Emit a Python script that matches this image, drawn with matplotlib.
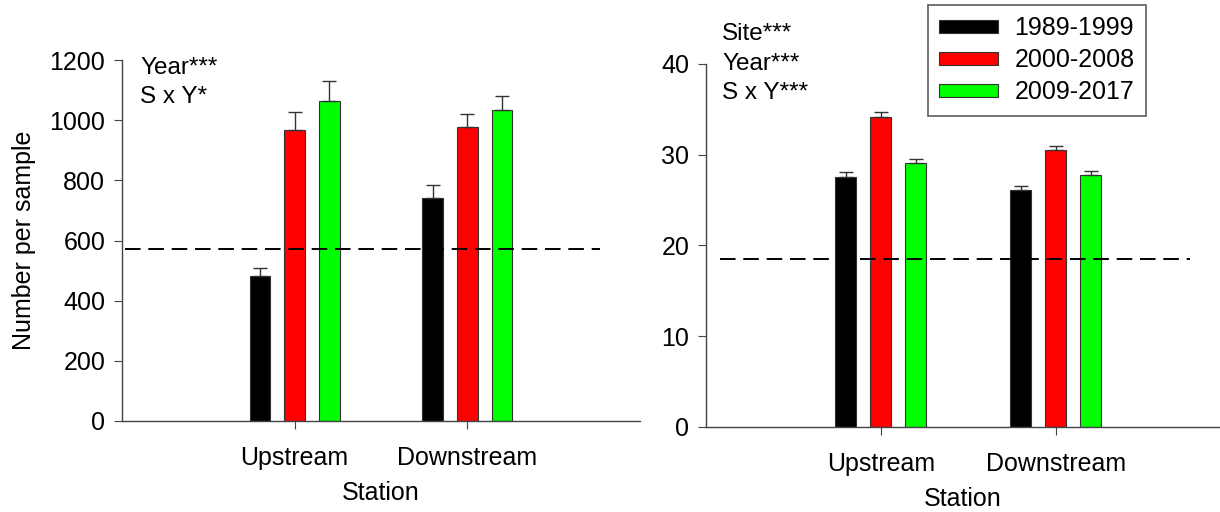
import matplotlib
matplotlib.use("Agg")
import matplotlib.pyplot as plt
import numpy as np

plt.rcParams['font.family'] = ['Liberation Sans', 'DejaVu Sans']

stations = ["Upstream", "Downstream"]
periods = ["1989-1999", "2000-2008", "2009-2017"]
colors = ["#000000", "#ff0000", "#00ff00"]

# Left panel: Number per sample
left_means = {"1989-1999": [482, 740], "2000-2008": [968, 977], "2009-2017": [1064, 1035]}
left_err = {"1989-1999": [28, 43], "2000-2008": [60, 44], "2009-2017": [66, 45]}
left_ref = 572
left_notes = ["Year***", "S x Y*"]

# Right panel
right_means = {"1989-1999": [27.6, 26.1], "2000-2008": [34.2, 30.5], "2009-2017": [29.05, 27.8]}
right_err = {"1989-1999": [0.5, 0.45], "2000-2008": [0.55, 0.5], "2009-2017": [0.45, 0.4]}
right_ref = 18.5
right_notes = ["Site***", "Year***", "S x Y***"]

FS = 18
W, H = 1220, 512
fig = plt.figure(figsize=(W/100, H/100), dpi=100)

ax1 = fig.add_axes([122/W, (H-421)/H, 518/W, 361/H])
ax2 = fig.add_axes([706/W, (H-427)/H, 514/W, 363/H])

x = np.array([1, 2])
bw = 0.12
offs = [-0.2, 0.0, 0.2]
spine_c = "#444444"

def draw(ax, means, errs, ref, ylim, yticks, xmax, ref_span):
    for p, c, o in zip(periods, colors, offs):
        ax.bar(x + o, means[p], bw, color=c, edgecolor="#333333", linewidth=0.8,
               label=p, zorder=2)
        ax.errorbar(x + o, means[p], yerr=[np.zeros(2), errs[p]], fmt="none",
                    ecolor="#333333", elinewidth=1, capsize=5, capthick=1, zorder=3)
    ax.hlines(ref, ref_span[0], ref_span[1], colors="black", linestyles=(0, (8, 4)),
              linewidth=1.4, zorder=4)
    ax.set_xlim(0, xmax)
    ax.set_ylim(*ylim)
    ax.set_yticks(yticks)
    ax.set_xticks(x)
    ax.set_xticklabels(stations, fontsize=FS)
    ax.tick_params(axis="y", labelsize=FS, length=6, color=spine_c, pad=6)
    ax.tick_params(axis="x", length=6, color=spine_c, pad=12)
    for s in ["top", "right"]:
        ax.spines[s].set_visible(False)
    for s in ["left", "bottom"]:
        ax.spines[s].set_color(spine_c)
        ax.spines[s].set_linewidth(1)
    ax.set_xlabel("Station", fontsize=FS, labelpad=8)

draw(ax1, left_means, left_err, left_ref, (0, 1200), [0, 200, 400, 600, 800, 1000, 1200], 3.0, (0.02, 2.77))
draw(ax2, right_means, right_err, right_ref, (0, 40), [0, 10, 20, 30, 40], 2.94, (0.08, 2.77))
ax1.set_ylabel("Number per sample", fontsize=FS, labelpad=10)

for i, t in enumerate(left_notes):
    fig.text(140/W, 1 - (68 + 29*i)/H, t, fontsize=17.5, va="center", ha="left")
for i, t in enumerate(right_notes):
    fig.text(722/W, 1 - (34 + 29.5*i)/H, t, fontsize=17.5, va="center", ha="left")

leg = ax2.legend(loc="upper left", bbox_to_anchor=(928/W, 1 - 5/H), bbox_transform=fig.transFigure,
                 borderaxespad=0, fontsize=18, frameon=True, fancybox=False, edgecolor="#333333",
                 handlelength=2.35, handleheight=0.45, borderpad=0.45, labelspacing=0.32,
                 handletextpad=0.65)
leg.get_frame().set_linewidth(1.2)

fig.savefig("out.png", dpi=100)
